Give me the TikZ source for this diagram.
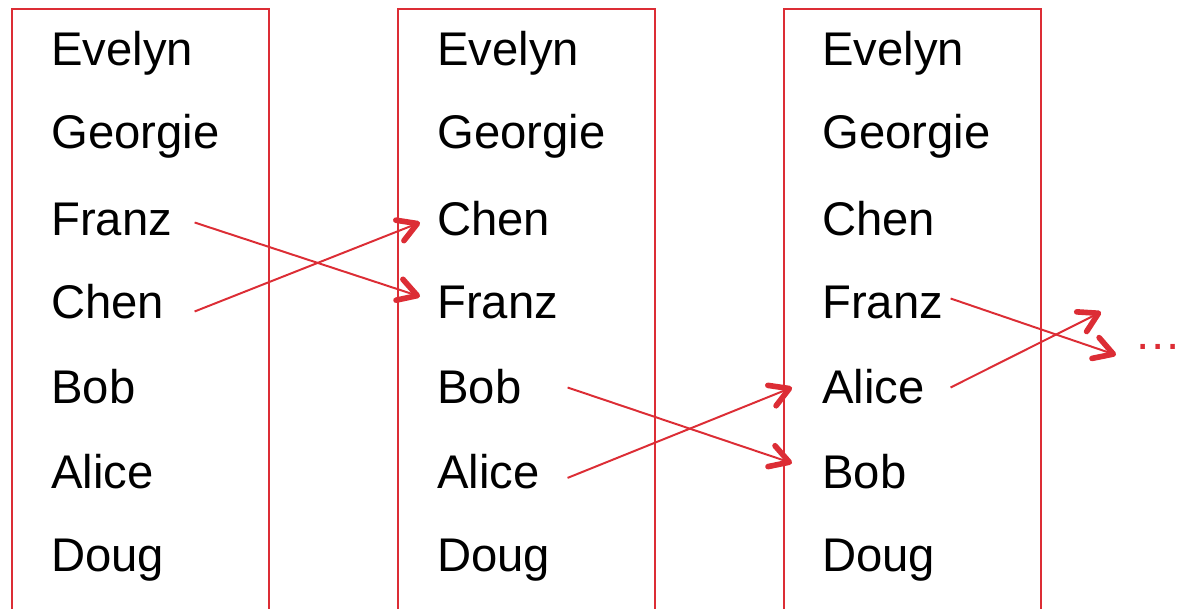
\documentclass[tikz,border=0pt]{standalone}
\usepackage{fontspec}
\setmainfont{Liberation Sans}
\usetikzlibrary{arrows.meta}
\definecolor{ListRed}{HTML}{DC2D35}

\begin{document}
\begin{tikzpicture}[x=0.025cm, y=-0.025cm,
    box/.style={draw=ListRed, line width=1.4pt},
    entry/.style={inner sep=0pt, anchor=base west, text height=0.825cm, text depth=0pt,
      align=left, font=\fontsize{33.6}{40}\selectfont},
    colA/.style={entry, text width=3.575cm},
    colB/.style={entry, text width=3.25cm},
    colC/.style={entry, text width=3.2cm},
    moveline/.style={draw=ListRed, line width=1.4pt,
      -{Straight Barb[length=0.47cm, width=0.55cm, line width=4pt, round]}}]
  \useasboundingbox (0,0) rectangle (1177,609);

  % Three list boxes, open at the bottom
  \draw[box] (12,609) |- (269,9) -- (269,609);
  \draw[box] (398,609) |- (655,9) -- (655,609);
  \draw[box] (784,609) |- (1041,9) -- (1041,609);

  % First list
  \node[colA] (a1) at (51,66) {Evelyn};
  \node[colA] (a2) at (51,149) {Georgie};
  \node[colA] (a3) at (51,236) {Franz};
  \node[colA] (a4) at (51,319) {Chen};
  \node[colA] (a5) at (51,404) {Bob};
  \node[colA] (a6) at (51,488) {Alice};
  \node[colA] (a7) at (51,571) {Doug};

  % Second list
  \node[colB] (b1) at (437,66) {Evelyn};
  \node[colB] (b2) at (437,149) {Georgie};
  \node[colB] (b3) at (437,236) {Chen};
  \node[colB] (b4) at (437,319) {Franz};
  \node[colB] (b5) at (437,404) {Bob};
  \node[colB] (b6) at (437,488) {Alice};
  \node[colB] (b7) at (437,571) {Doug};

  % Third list
  \node[colC] (c1) at (822,66) {Evelyn};
  \node[colC] (c2) at (822,149) {Georgie};
  \node[colC] (c3) at (822,236) {Chen};
  \node[colC] (c4) at (822,319) {Franz};
  \node[colC] (c5) at (822,404) {Alice};
  \node[colC] (c6) at (822,488) {Bob};
  \node[colC] (c7) at (822,571) {Doug};

  % and so on
  \node[entry, text height=0pt, text=ListRed] (more) at (1134,350) {…};
  \coordinate (franzNext) at (1116,355);
  \coordinate (aliceNext) at (1101,312);

  % swaps
  \draw[moveline] ([yshift=-0.075cm]a3.east) -- ([xshift=-0.425cm, yshift=0.15cm]b4.west);
  \draw[moveline] ([yshift=-0.225cm]a4.east) -- ([xshift=-0.425cm, yshift=-0.075cm]b3.west);
  \draw[moveline] (b5.east) -- ([xshift=-0.75cm, yshift=0.21cm]c6.west);
  \draw[moveline] ([yshift=-0.16cm]b6.east) -- ([xshift=-0.75cm]c5.west);
  \draw[moveline] ([yshift=0.1cm]c4.east) -- (franzNext);
  \draw[moveline] (c5.east) -- (aliceNext);
\end{tikzpicture}
\end{document}
